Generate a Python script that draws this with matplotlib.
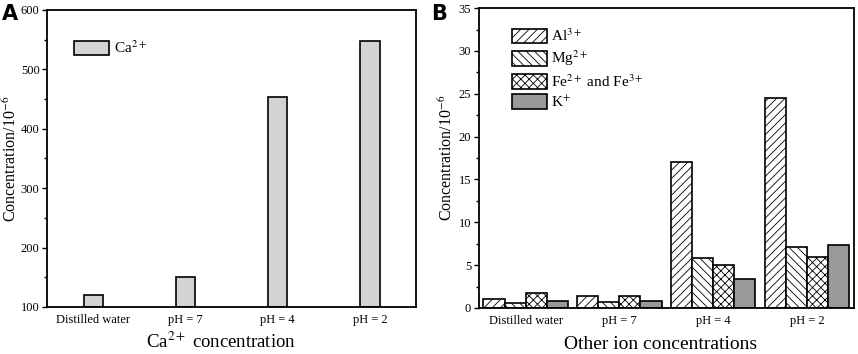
import matplotlib.pyplot as plt
import numpy as np

plt.rcParams['font.family'] = ['Liberation Serif', 'DejaVu Serif']
plt.rcParams['mathtext.fontset'] = 'stix'
plt.rcParams['hatch.linewidth'] = 0.6

categories = ['Distilled water', 'pH = 7', 'pH = 4', 'pH = 2']
ca = [120, 150, 453, 547]

al = [1.0, 1.4, 17.0, 24.5]
mg = [0.6, 0.7, 5.8, 7.1]
fe = [1.7, 1.4, 5.0, 5.9]
k = [0.8, 0.8, 3.4, 7.3]

fig = plt.figure(figsize=(8.58, 3.54), dpi=100)
ax1 = fig.add_axes([0.055, 0.133, 0.430, 0.839])
ax2 = fig.add_axes([0.558, 0.130, 0.437, 0.847])

x = np.arange(len(categories))

# panel A
ax1.bar(x, np.array(ca) - 100, bottom=100, width=0.21, color='#d3d3d3',
        edgecolor='black', linewidth=1.2, label='Ca$^{2+}$')
ax1.set_xlim(-0.5, 3.5)
ax1.set_ylim(100, 600)
ax1.set_yticks([100, 200, 300, 400, 500, 600])
ax1.set_yticks(np.arange(150, 600, 100), minor=True)
ax1.set_xticks(x)
ax1.set_xticklabels(categories)
ax1.set_xlabel('Ca$^{2+}$ concentration', fontsize=13.5)
ax1.xaxis.set_label_coords(0.47, -0.085)
ax1.set_ylabel('Concentration/10$^{-6}$', fontsize=11.5)
ax1.yaxis.set_label_coords(-0.074, 0.5)
ax1.legend(loc='upper left', frameon=False, fontsize=11, handlelength=2.3,
           handleheight=1.1, handletextpad=0.3, borderpad=0, borderaxespad=0,
           bbox_to_anchor=(0.073, 0.9))

# panel B
w = 0.225
series = [(al, '////', 'white', 'Al$^{3+}$'),
          (mg, '\\\\\\\\', 'white', 'Mg$^{2+}$'),
          (fe, 'xxxx', 'white', 'Fe$^{2+}$ and Fe$^{3+}$'),
          (k, None, '#999999', 'K$^{+}$')]
for i, (vals, hatch, col, lab) in enumerate(series):
    ax2.bar(x + (i - 1.5) * w, vals, width=w, color=col, hatch=hatch,
            edgecolor='black', linewidth=1.2, label=lab)
ax2.set_xlim(-0.5, 3.5)
ax2.set_ylim(0, 35)
ax2.set_yticks(np.arange(0, 36, 5))
ax2.set_yticks(np.arange(2.5, 35, 5), minor=True)
ax2.set_xticks(x)
ax2.set_xticklabels(categories)
ax2.set_xlabel('Other ion concentrations', fontsize=14)
ax2.xaxis.set_label_coords(0.485, -0.093)
ax2.set_ylabel('Concentration/10$^{-6}$', fontsize=11.5)
ax2.yaxis.set_label_coords(-0.06, 0.5)
ax2.legend(loc='upper left', frameon=False, fontsize=11, handlelength=2.3,
           handleheight=1.1, handletextpad=0.3, labelspacing=0.3,
           borderpad=0, borderaxespad=0, bbox_to_anchor=(0.088, 0.935))

for ax in (ax1, ax2):
    ax.tick_params(axis='x', length=0, labelsize=9, pad=5)
    ax.tick_params(axis='y', which='major', length=3.5, width=1, labelsize=9,
                   pad=2)
    ax.tick_params(axis='y', which='minor', length=2, width=1)
    for s in ax.spines.values():
        s.set_linewidth(1.3)

fig.text(0.002, 0.99, 'A', fontsize=15, fontweight='bold', va='top',
         family='DejaVu Sans')
fig.text(0.502, 0.99, 'B', fontsize=15, fontweight='bold', va='top',
         family='DejaVu Sans')

fig.savefig('out.png', dpi=100)
